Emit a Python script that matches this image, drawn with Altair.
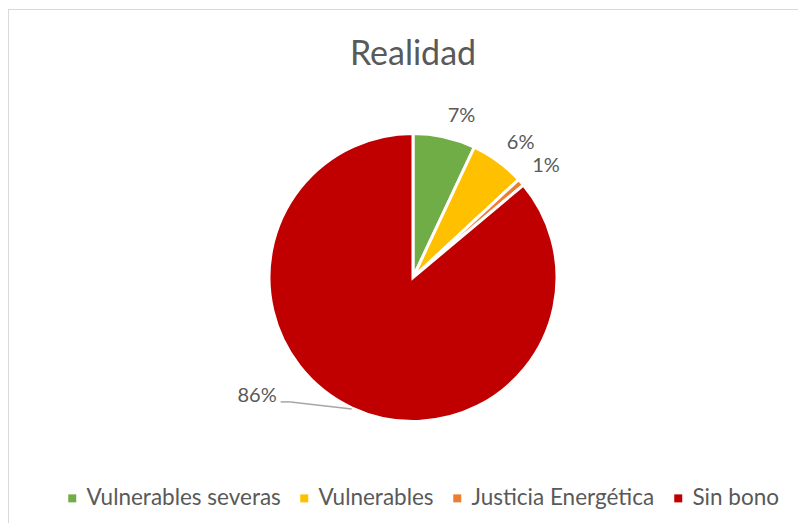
import altair as alt
import pandas as pd

# ---- data ----
categories = ["Vulnerables severas", "Vulnerables", "Justicia Energética", "Sin bono"]
values = [7.0, 6.1, 0.8, 86.1]          # percent of total
colors = ["#70AD47", "#FFC000", "#ED7D31", "#C00000"]
title_text = "Realidad"

df = pd.DataFrame({"cat": categories, "value": values, "idx": list(range(len(categories)))})

# ---- layout ----
W, H = 790, 515
CX, CY, R = 405, 269.5, 144
FONT = "Lato"
TXT = "#595959"
FRAME = "#D9D9D9"

pie = alt.Chart(df).mark_arc(outerRadius=R, stroke="white", strokeWidth=3).encode(
    theta=alt.Theta("value:Q", stack=True),
    order=alt.Order("idx:Q"),
    color=alt.Color(
        "cat:N",
        sort=categories,
        scale=alt.Scale(domain=categories, range=colors),
        legend=alt.Legend(
            title=None,
            orient="none",
            direction="horizontal",
            legendX=53,
            legendY=479,
            symbolType="square",
            symbolSize=64,
            symbolStrokeWidth=0,
            labelFont=FONT,
            labelFontSize=22.5,
            labelColor=TXT,
            labelOffset=3,
            labelLimit=0,
            columnPadding=12,
        ),
    ),
    x=alt.value(CX),
    y=alt.value(CY),
)

small_labels = alt.Chart(df).transform_calculate(
    label="datum.cat == 'Sin bono' ? '' : format(datum.value / 100, '.0%')"
).mark_text(
    radius=R + 15, align="left", baseline="alphabetic", font=FONT, fontSize=20, color=TXT
).encode(
    theta=alt.Theta("value:Q", stack=True),
    order=alt.Order("idx:Q"),
    text="label:N",
    x=alt.value(CX),
    y=alt.value(CY),
)

lead = alt.Chart(df).transform_window(
    cum="sum(value)", sort=[alt.SortField("idx")], frame=[None, 0]
).transform_joinaggregate(total="sum(value)").transform_calculate(
    mid="(datum.cum - datum.value / 2) / datum.total * 2 * PI",
    x0=f"{CX} + {R + 1} * sin(datum.mid)",
    y0=f"{CY} - {R + 1} * cos(datum.mid)",
    x1="datum.x0 - 61",
    y1="datum.y0 - 7",
    x2="datum.x1 - 10",
    tx="datum.x2 - 4",
    ty="datum.y1 - 6",
    label="format(datum.value / 100, '.0%')",
).transform_filter(alt.datum.cat == "Sin bono")

rule1 = lead.mark_rule(color="#A6A6A6", strokeWidth=1.5).encode(
    x=alt.X("x0:Q", scale=None, axis=None),
    y=alt.Y("y0:Q", scale=None, axis=None),
    x2="x1:Q",
    y2="y1:Q",
)
rule2 = lead.mark_rule(color="#A6A6A6", strokeWidth=1.5).encode(
    x=alt.X("x1:Q", scale=None, axis=None),
    y=alt.Y("y1:Q", scale=None, axis=None),
    x2="x2:Q",
    y2="y1:Q",
)
big_label = lead.mark_text(align="right", baseline="middle", font=FONT, fontSize=20, color=TXT).encode(
    x=alt.X("tx:Q", scale=None, axis=None),
    y=alt.Y("ty:Q", scale=None, axis=None),
    text="label:N",
)

title = alt.Chart(pd.DataFrame({"t": [title_text]})).mark_text(
    font=FONT, fontSize=34, color=TXT, baseline="middle", align="center"
).encode(text="t:N", x=alt.value(CX), y=alt.value(47))

# chart frame: only its top and left edges fall inside the window
frame_top = alt.Chart(pd.DataFrame({"k": [0]})).mark_rule(color=FRAME, strokeWidth=1).encode(
    x=alt.value(0), x2=alt.value(W), y=alt.value(1.5)
)
frame_left = alt.Chart(pd.DataFrame({"k": [0]})).mark_rule(color=FRAME, strokeWidth=1).encode(
    x=alt.value(0.5), y=alt.value(1.5), y2=alt.value(H)
)

chart = alt.layer(frame_top, frame_left, pie, small_labels, rule1, rule2, big_label, title).properties(
    width=W, height=H, autosize=alt.AutoSizeParams(type="none"), padding=0, background="white"
).configure_view(stroke=None)

chart.save("out.html", embed_options={"renderer": "svg", "actions": False})
